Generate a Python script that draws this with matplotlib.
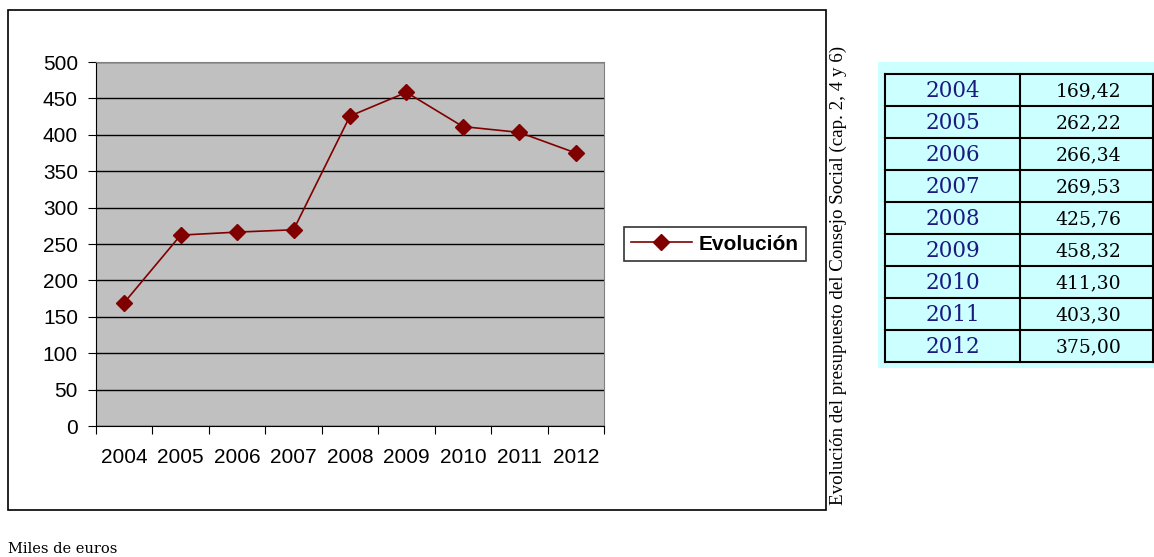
import matplotlib
matplotlib.use("Agg")
import matplotlib.pyplot as plt
from matplotlib.patches import Rectangle
from matplotlib.lines import Line2D

years = ["2004", "2005", "2006", "2007", "2008", "2009", "2010", "2011", "2012"]
values = [169.42, 262.22, 266.34, 269.53, 425.76, 458.32, 411.30, 403.30, 375.00]
value_labels = ["169,42", "262,22", "266,34", "269,53", "425,76",
                "458,32", "411,30", "403,30", "375,00"]

W, H = 1154, 557
fig = plt.figure(figsize=(W / 100, H / 100), dpi=100)

def fx(px):
    return px / W

def fy(py):
    return 1 - py / H

# outer chart frame
fig.patches.append(Rectangle((fx(8), fy(510)), fx(826) - fx(8), fy(10) - fy(510),
                             transform=fig.transFigure, fill=False,
                             edgecolor="black", linewidth=1.2))

ax = fig.add_axes([fx(96), fy(426), fx(604) - fx(96), fy(62) - fy(426)])
ax.set_facecolor("#C0C0C0")
x = list(range(len(years)))
line, = ax.plot(x, values, color="#800000", marker="D", markersize=8,
                linewidth=1.2, label="Evolución", zorder=3)
ax.set_xlim(-0.5, len(years) - 0.5)
ax.set_ylim(0, 500)
ax.set_yticks(range(0, 501, 50))
ax.set_xticks([i - 0.5 for i in range(len(years) + 1)])
ax.set_xticklabels([])
ax.set_xticks(x, minor=True)
ax.set_xticklabels(years, minor=True)
ax.tick_params(axis="x", which="minor", length=0, pad=16)
ax.tick_params(axis="x", which="major", length=6, direction="out")
ax.tick_params(axis="y", length=6, direction="out", pad=7)
for lbl in ax.get_xticklabels(minor=True) + ax.get_yticklabels():
    lbl.set_fontfamily("Liberation Sans")
    lbl.set_fontsize(15)
ax.yaxis.grid(True, color="black", linewidth=1)
ax.set_axisbelow(True)
ax.spines["top"].set_color("#808080")
ax.spines["right"].set_color("#808080")
ax.spines["left"].set_color("black")
ax.spines["bottom"].set_color("black")

leg = fig.legend(handles=[line], loc="center",
                 bbox_to_anchor=(fx(715), fy(244)),
                 prop={"family": "Liberation Sans", "weight": "bold", "size": 15},
                 frameon=True, fancybox=False, edgecolor="black",
                 handlelength=2.9, borderpad=0.35, handletextpad=0.35)
leg.get_frame().set_linewidth(1.2)

# vertical caption
fig.text(fx(838), fy(275), "Evolución del presupuesto del Consejo Social (cap. 2, 4 y 6)",
         rotation=90, ha="center", va="center", fontsize=13.7,
         family="Liberation Serif")

# side table
fig.patches.append(Rectangle((fx(878), fy(368)), fx(W + 5) - fx(878), fy(62) - fy(368),
                             transform=fig.transFigure, facecolor="#CCFFFF",
                             edgecolor="none"))
top, row_h = 74, 32
left, mid, right = 885, 1020, 1153
n = len(years)
for i in range(n + 1):
    yy = fy(top + i * row_h)
    fig.lines.append(Line2D([fx(left), fx(right)], [yy, yy], transform=fig.transFigure,
                            color="black", linewidth=1.5))
for xx in (left, mid, right):
    fig.lines.append(Line2D([fx(xx), fx(xx)], [fy(top), fy(top + n * row_h)],
                            transform=fig.transFigure, color="black", linewidth=1.5))
for i, (yr, vl) in enumerate(zip(years, value_labels)):
    yc = fy(top + i * row_h + row_h / 2 + 1)
    fig.text(fx((left + mid) / 2), yc, yr, ha="center", va="center",
             fontsize=15.5, family="DejaVu Serif", color="#1A1A80")
    fig.text(fx((mid + right) / 2 + 2), yc, vl, ha="center", va="center",
             fontsize=13.5, family="DejaVu Serif", color="black")

fig.text(fx(8), fy(549), "Miles de euros", ha="left", va="center",
         fontsize=10.5, family="DejaVu Serif")

fig.savefig("out.png", dpi=100)
